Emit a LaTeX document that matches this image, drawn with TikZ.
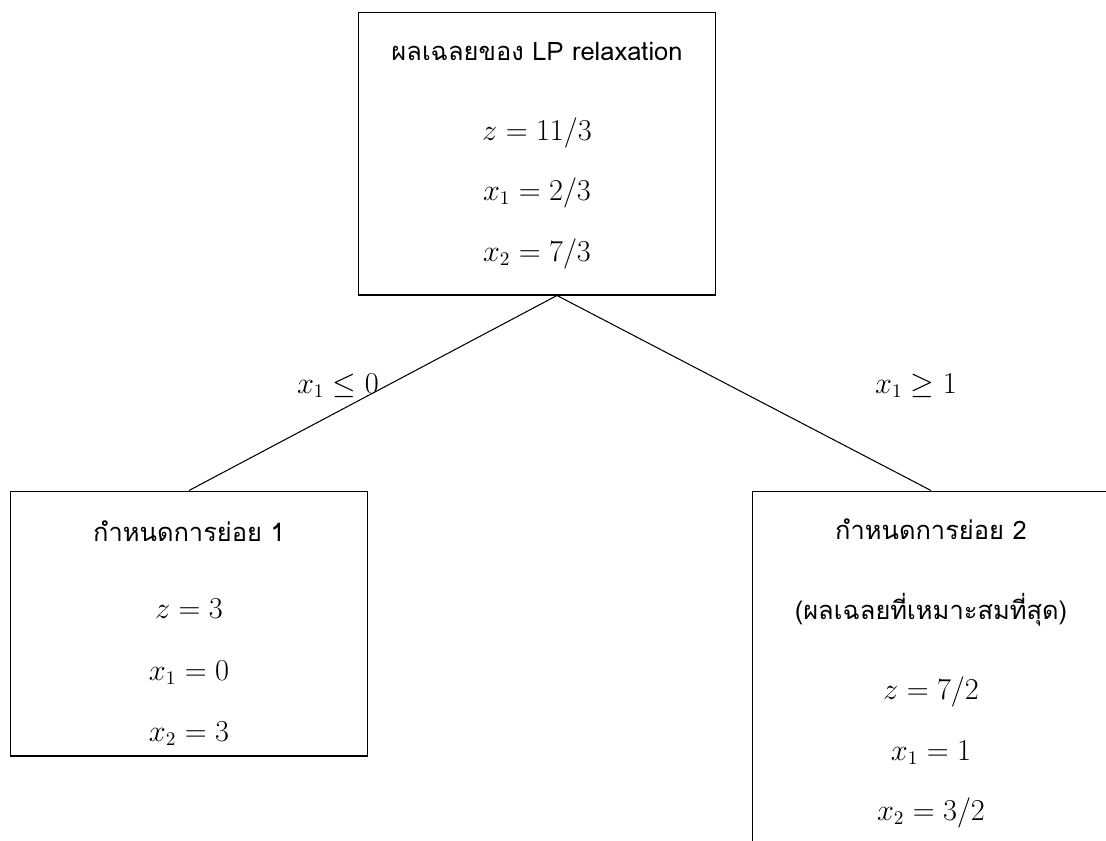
\documentclass[tikz,border=0pt]{standalone}
\usepackage{fontspec}
\newfontfamily\thaifont[Script=Thai]{Loma}
\usetikzlibrary{positioning}

\begin{document}
\begin{tikzpicture}[x=0.02cm, y=-0.02cm, line width=0.6pt]

        \tikzset{
            box/.style={draw, rectangle, minimum width=7.16cm, inner sep=0pt},
            thaitext/.style={font=\thaifont\fontsize{14.5}{17}\selectfont, anchor=base},
            mathtext/.style={font=\fontsize{16}{19}\selectfont, anchor=base},
        }
        \useasboundingbox (0,0) rectangle (1106,840);

        % 1. Boxes (root and the two subproblems)
        \node[box, minimum height=5.66cm] (root) at (537,153.5) {};
        \node[box, minimum height=5.30cm] (sub1) at (189,623.5) {};
        \node[box, minimum height=7.38cm] (sub2) at (931,675.5) {};

        % 2. Root: LP relaxation
        \node[thaitext] (roottitle) at (537,60) {ผลเฉลยของ LP relaxation};
        \node[mathtext] (rootz) at (537,140) {$z = 11/3$};
        \node[mathtext] (rootxa) at (537,200) {$x_1 = 2/3$};
        \node[mathtext] (rootxb) at (537,261) {$x_2 = 7/3$};

        % 3. Subproblem 1
        \node[thaitext] (subtitlea) at (189,541) {กำหนดการย่อย 1};
        \node[mathtext] (subaz) at (189,618) {$z = 3$};
        \node[mathtext] (subaxa) at (189,680) {$x_1 = 0$};
        \node[mathtext] (subaxb) at (189,741) {$x_2 = 3$};

        % 4. Subproblem 2 (optimal)
        \node[thaitext] (subtitleb) at (931,539) {กำหนดการย่อย 2};
        \node[thaitext] (subnoteb) at (931,619) {(ผลเฉลยที่เหมาะสมที่สุด)};
        \node[mathtext] (subbz) at (931,699) {$z = 7/2$};
        \node[mathtext] (subbxa) at (931,760) {$x_1 = 1$};
        \node[mathtext] (subbxb) at (931,820) {$x_2 = 3/2$};

        % 5. Branches
        \coordinate (fork) at ([xshift=0.4cm]root.south);
        \draw (fork) -- (sub1.north);
        \draw (fork) -- (sub2.north);
        \node[mathtext] (leftcut) at (338,393) {$x_1 \leq 0$};
        \node[mathtext] (rightcut) at (916,393) {$x_1 \geq 1$};

\end{tikzpicture}
\end{document}
